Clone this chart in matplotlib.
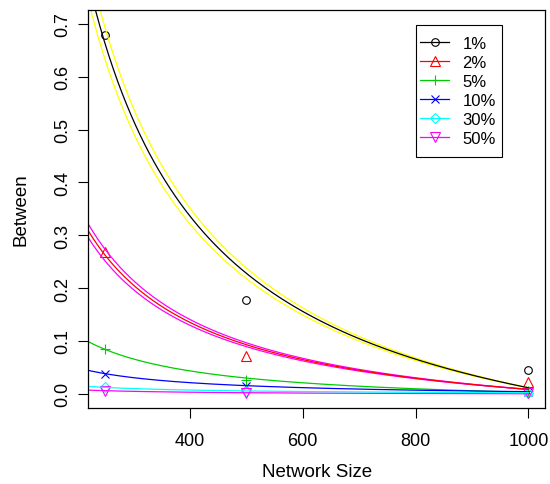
import numpy as np
import matplotlib
matplotlib.use("Agg")
import matplotlib.pyplot as plt
from matplotlib.patches import Rectangle

plt.rcParams['font.family'] = ['Liberation Sans', 'DejaVu Sans']

# network sizes where measurements were taken
sizes = [250, 500, 1000]

labels = ['1%', '2%', '5%', '10%', '30%', '50%']

# "between" values for each percentage
between_1 = [0.679, 0.1765, 0.0456]
between_2 = [0.269, 0.072, 0.022]
between_5 = [0.085, 0.026, 0.005]
between_10 = [0.038, 0.015, 0.004]
between_30 = [0.012, 0.005, 0.002]
between_50 = [0.006, 0.001, 0.0005]

# half widths of the bands drawn around the 1% and 2% fits
band_1 = [0.030, 0.010, 0.0]
band_2 = [0.011, 0.0036, 0.0]

colors = ['black', 'red', '#00CD00', 'blue', 'cyan', 'magenta']
markers = ['o', '^', '+', 'x', 'D', 'v']
msizes = [5.5, 7, 7.5, 6, 5.5, 7]

series = [between_1, between_2, between_5, between_10, between_30, between_50]


def fit_curve(xs, ys, xx):
    # least squares fit of y = a/x + b
    a, b = np.polyfit(1.0 / np.array(xs, float), np.array(ys, float), 1)
    return a / xx + b


fig = plt.figure(figsize=(5.5, 4.85), dpi=100)
ax = fig.add_axes([0.1605, 0.156, 0.831, 0.822])

xx = np.linspace(200, 1000, 400)

# points
for ys, c, m, ms in zip(series, colors, markers, msizes):
    ax.plot(sizes, ys, ls='none', marker=m, ms=ms, mfc='none', mec=c, mew=0.8)

# bands for the first two series
up1 = np.array(between_1) + np.array(band_1)
lo1 = np.array(between_1) - np.array(band_1)
ax.plot(xx, fit_curve(sizes, up1, xx), color='yellow', lw=0.9)
ax.plot(xx, fit_curve(sizes, lo1, xx), color='yellow', lw=0.9)
up2 = np.array(between_2) + np.array(band_2)
lo2 = np.array(between_2) - np.array(band_2)
ax.plot(xx, fit_curve(sizes, up2, xx), color='magenta', lw=0.9)
ax.plot(xx, fit_curve(sizes, lo2, xx), color='magenta', lw=0.9)

# fitted curves, magenta under cyan
order = [0, 1, 2, 3, 5, 4]
for i in order:
    ax.plot(xx, fit_curve(sizes, series[i], xx), color=colors[i], lw=0.9)

# legend handles
handles = []
for c, m, ms in zip(colors, markers, msizes):
    h, = ax.plot([], [], color=c, lw=0.9, marker=m, ms=ms, mfc='none', mec=c, mew=0.8)
    handles.append(h)
leg = ax.legend(handles, labels, loc='upper left', bbox_to_anchor=(0.7258, 0.9345),
                fontsize=12, frameon=False,
                handlelength=1.75, handletextpad=0.8, borderpad=0,
                labelspacing=0.24, borderaxespad=0)

ax.set_xlim(220, 1030)
ax.set_ylim(-0.0277, 0.727)
ax.set_xticks([400, 600, 800, 1000])
ax.set_yticks([0.0, 0.1, 0.2, 0.3, 0.4, 0.5, 0.6, 0.7])
ax.set_yticklabels(['0.0', '0.1', '0.2', '0.3', '0.4', '0.5', '0.6', '0.7'],
                   rotation=90, va='center')
ax.tick_params(direction='out', length=7, width=0.8, labelsize=13)
ax.tick_params(axis='x', pad=10)
ax.tick_params(axis='y', pad=5)
for s in ax.spines.values():
    s.set_linewidth(0.9)

ax.set_xlabel('Network Size', fontsize=13.5, labelpad=10)
ax.set_ylabel('Between', fontsize=13.5, labelpad=18)

# R style legend box with more room above and below the entries
fig.canvas.draw()
bb = leg.get_window_extent()
x0, y0 = bb.x0 - 4, bb.y0 - 11
x1, y1 = bb.x1 + 6, bb.y1 + 11
inv = ax.transAxes.inverted()
(ax0, ay0), (ax1, ay1) = inv.transform([(x0, y0), (x1, y1)])
ax.add_patch(Rectangle((ax0, ay0), ax1 - ax0, ay1 - ay0, transform=ax.transAxes,
                       fill=False, edgecolor='black', lw=0.8, zorder=6))

fig.savefig('out.png', dpi=100)
